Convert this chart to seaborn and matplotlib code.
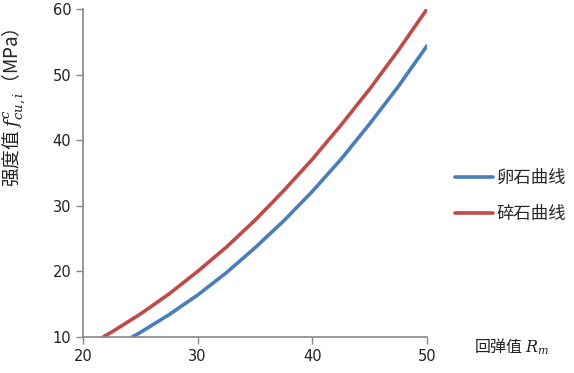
import matplotlib
matplotlib.use("Agg")
import matplotlib.pyplot as plt
import seaborn as sns
import pandas as pd

# Data
pebble_x = [24.3, 25, 27.5, 30, 32.5, 35, 37.5, 40, 42.5, 45, 47.5, 50]
pebble_y = [10.0, 10.7, 13.4, 16.4, 19.8, 23.6, 27.7, 32.2, 37.1, 42.5, 48.2, 54.4]
gravel_x = [21.8, 22.5, 25, 27.5, 30, 32.5, 35, 37.5, 40, 42.5, 45, 47.5, 50]
gravel_y = [10.05, 10.75, 13.5, 16.56, 20.0, 23.7, 27.8, 32.3, 37.1, 42.3, 47.8, 53.7, 60.0]
series_names = ["卵石曲线", "碎石曲线"]
x_ticks = [20, 30, 40, 50]
y_ticks = [10, 20, 30, 40, 50, 60]

df = pd.concat([
    pd.DataFrame({"x": pebble_x, "y": pebble_y, "s": series_names[0]}),
    pd.DataFrame({"x": gravel_x, "y": gravel_y, "s": series_names[1]}),
])

sns.set_theme(style="white")
plt.rcParams['font.family'] = ['Noto Sans CJK SC', 'DejaVu Sans']
plt.rcParams['mathtext.fontset'] = 'dejavuserif'

fig = plt.figure(figsize=(5.74, 3.73), dpi=100)
ax = fig.add_axes([0.1446, 0.0965, 0.5994, 0.8795])
sns.lineplot(data=df, x="x", y="y", hue="s", sort=False,
             palette=["#4A7EBB", "#BE4B48"], linewidth=2.6, ax=ax, legend=True)

ax.set_xlim(20, 50)
ax.set_ylim(10, 60)
ax.set_xticks(x_ticks)
ax.set_yticks(y_ticks)
ax.tick_params(axis="both", direction="out", length=5, width=1, color="#868686",
               labelsize=10.5, labelcolor="#222222", bottom=True, left=True)
for lbl in ax.get_xticklabels() + ax.get_yticklabels():
    lbl.set_family("DejaVu Sans")
for side in ["top", "right"]:
    ax.spines[side].set_visible(False)
for side in ["left", "bottom"]:
    ax.spines[side].set_color("#868686")
    ax.spines[side].set_linewidth(1.2)
ax.set_xlabel("")
ax.set_ylabel("强度值 $f^c_{cu,i}$（MPa）", fontsize=13.5, color="#222222")
ax.yaxis.set_label_coords(-0.16, 0.70)

fig.text(0.825, 0.07, "回弹值 $R_m$", fontsize=11.5, ha="left", va="center", color="#222222")

handles, labels = ax.get_legend_handles_labels()
ax.legend(handles, labels, loc="center left", bbox_to_anchor=(1.035, 0.43),
          frameon=False, fontsize=12.5, handlelength=2.2, handletextpad=0.2,
          labelspacing=1.0)

fig.savefig("out.png", dpi=100)
